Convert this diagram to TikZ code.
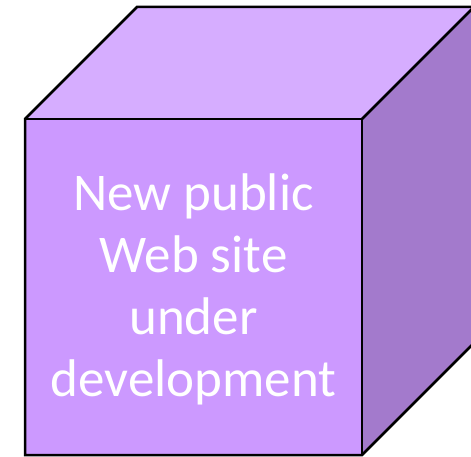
\documentclass[tikz,border=0pt]{standalone}
\usepackage{fontspec}
\setmainfont{Carlito}
\definecolor{frontc}{HTML}{CC99FF}
\definecolor{topc}{HTML}{D6ADFF}
\definecolor{sidec}{HTML}{A37ACC}
\begin{document}
\begin{tikzpicture}[x=1pt,y=-1pt,
  edge/.style={draw=black,line width=2.5pt,line join=miter},
  label/.style={text=white,font=\fontsize{53}{62}\selectfont,align=center,inner sep=0pt}]
\useasboundingbox (0,0) rectangle (471,457);
\clip (0,0) rectangle (471,457);
\coordinate (fa) at (25,119);
\coordinate (fb) at (362,119);
\coordinate (fc) at (362,455);
\coordinate (fd) at (25,455);
\coordinate (ba) at (137,7);
\coordinate (bb) at (474,7);
\coordinate (bc) at (474,343);
\fill[topc] (fa) -- (ba) -- (bb) -- (fb) -- cycle;
\fill[sidec] (fb) -- (bb) -- (bc) -- (fc) -- cycle;
\fill[frontc] (fa) -- (fb) -- (fc) -- (fd) -- cycle;
\draw[edge] (fa) -- (ba) -- (bb) -- (bc) -- (fc) -- (fd) -- cycle;
\draw[edge] (fa) -- (fb) -- (fc);
\draw[edge] (fb) -- (bb);
\node[label] (txt) at (193.5,289) {New public\\Web site\\under\\development};
\end{tikzpicture}
\end{document}
